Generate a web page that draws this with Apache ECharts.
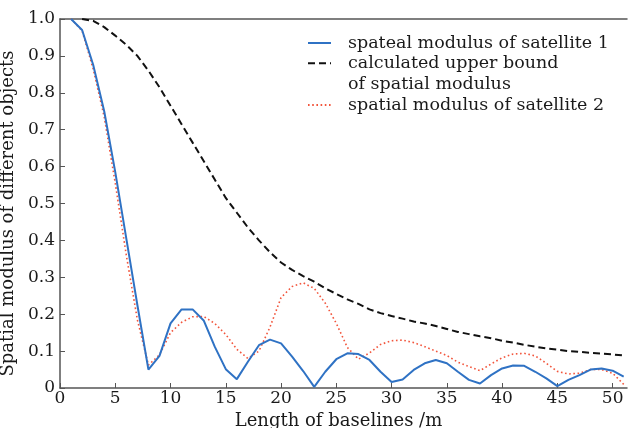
<!DOCTYPE html>
<html>
<head>
<meta charset="utf-8">
<script src="https://cdn.jsdelivr.net/npm/echarts@6/dist/echarts.min.js"></script>
<style>
  html, body { margin: 0; padding: 0; background: #fff; }
  #chart { width: 632px; height: 428px; }
</style>
</head>
<body>
<div id="chart"></div>
<script>
// baseline length (m)
const baselines = [1, 2, 3, 4, 5, 6, 7, 8, 9, 10, 11, 12, 13, 14, 15, 16, 17, 18, 19, 20,
  21, 22, 23, 24, 25, 26, 27, 28, 29, 30, 31, 32, 33, 34, 35, 36, 37, 38, 39, 40,
  41, 42, 43, 44, 45, 46, 47, 48, 49, 50, 51];

// satellite 1 (blue solid)
const satellite1 = [1.0, 0.97, 0.876, 0.75, 0.585, 0.405, 0.225, 0.05, 0.087, 0.175,
  0.213, 0.213, 0.183, 0.112, 0.051, 0.024, 0.071, 0.116, 0.131, 0.121,
  0.085, 0.046, 0.003, 0.044, 0.078, 0.094, 0.092, 0.076, 0.044, 0.016,
  0.023, 0.049, 0.067, 0.076, 0.067, 0.044, 0.022, 0.012, 0.035, 0.053,
  0.061, 0.06, 0.044, 0.026, 0.005, 0.022, 0.035, 0.05, 0.053, 0.047, 0.031];

// satellite 2 (red dotted)
const satellite2 = [1.0, 0.968, 0.865, 0.735, 0.555, 0.36, 0.185, 0.062, 0.09, 0.15,
  0.178, 0.193, 0.194, 0.175, 0.145, 0.105, 0.08, 0.1, 0.165, 0.245,
  0.275, 0.285, 0.27, 0.23, 0.175, 0.11, 0.078, 0.095, 0.118, 0.128,
  0.13, 0.123, 0.112, 0.1, 0.088, 0.07, 0.058, 0.047, 0.065, 0.082,
  0.092, 0.094, 0.087, 0.067, 0.045, 0.038, 0.04, 0.05, 0.05, 0.04, 0.01];

// calculated upper bound (black dashed), starts at x = 2
const upperBaselines = baselines.slice(1);
const upperBound = [1.0, 0.995, 0.978, 0.955, 0.93, 0.9, 0.86, 0.815, 0.765, 0.715,
  0.665, 0.615, 0.565, 0.515, 0.475, 0.435, 0.4, 0.368, 0.34, 0.32,
  0.303, 0.288, 0.27, 0.255, 0.24, 0.228, 0.213, 0.203, 0.195, 0.188,
  0.18, 0.175, 0.168, 0.16, 0.152, 0.146, 0.14, 0.135, 0.128, 0.123,
  0.117, 0.112, 0.107, 0.104, 0.1, 0.098, 0.095, 0.093, 0.091, 0.088];

const names = ['spateal modulus of satellite 1', 'calculated upper bound\nof spatial modulus', 'spatial modulus of satellite 2'];

const zip = (xs, ys) => xs.map((x, i) => [x, ys[i]]);

const serif = 'DejaVu Serif';
const axisColor = '#555';
const textColor = '#1a1a1a';

// one legend block per entry so the two-line entry keeps its icon on the first line
const legendBlock = (name, top, formatter) => ({
  orient: 'vertical',
  left: 307,
  top: top,
  padding: 0,
  itemWidth: 23,
  itemHeight: 14,
  selectedMode: false,
  itemStyle: { opacity: 0 },
  formatter: formatter,
  textStyle: { fontFamily: serif, fontSize: 17.5, color: textColor, lineHeight: 21, padding: [0, 0, 0, 12] },
  data: [name]
});

const chart = echarts.init(document.getElementById('chart'));
const option = {
  animation: false,
  grid: { left: 60, right: 5, top: 19, bottom: 40, outerBoundsMode: 'none' },
  legend: [
    legendBlock(names[0], 32.5),
    // blank first line so the text block's middle line sits on the icon
    legendBlock(names[1], 31.8, n => ' \n' + n),
    legendBlock(names[2], 94.5)
  ],
  xAxis: [{
    type: 'value',
    min: 0,
    max: 51.3,
    interval: 5,
    name: 'Length of baselines /m',
    nameLocation: 'middle',
    nameGap: 20,
    nameTextStyle: { fontFamily: serif, fontSize: 18, color: textColor, padding: [0, 10, 0, 0] },
    axisLine: { lineStyle: { color: axisColor, width: 1.5 } },
    axisTick: { inside: true, length: 5, lineStyle: { color: axisColor } },
    axisLabel: { showMaxLabel: false, margin: 2, fontFamily: serif, fontSize: 17, color: textColor },
    splitLine: { show: false }
  }, {
    type: 'value',
    position: 'top',
    min: 0,
    max: 51.3,
    axisLine: { show: true, lineStyle: { color: axisColor, width: 1.5 } },
    axisTick: { show: false },
    axisLabel: { show: false },
    splitLine: { show: false }
  }],
  yAxis: {
    type: 'value',
    min: 0,
    max: 1,
    interval: 0.1,
    name: 'Spatial modulus of different objects',
    nameLocation: 'middle',
    nameGap: 28,
    nameTextStyle: { fontFamily: serif, fontSize: 18, color: textColor, padding: [0, 20, 0, 0] },
    axisLine: { show: true, lineStyle: { color: axisColor, width: 1.5 } },
    axisTick: { show: true, inside: true, length: 5, lineStyle: { color: axisColor } },
    axisLabel: {
      margin: 5,
      fontFamily: serif,
      fontSize: 17,
      color: textColor,
      formatter: v => (v === 0 ? '0' : v.toFixed(1))
    },
    splitLine: { show: false }
  },
  series: [
    {
      name: names[0],
      type: 'line',
      data: zip(baselines, satellite1),
      symbol: 'none',
      lineStyle: { color: '#2f72c4', width: 2 },
      itemStyle: { color: '#2f72c4' },
      z: 3
    },
    {
      name: names[1],
      type: 'line',
      data: zip(upperBaselines, upperBound),
      symbol: 'none',
      lineStyle: { color: '#111', width: 2, type: [7, 4] },
      itemStyle: { color: '#111' },
      z: 2
    },
    {
      name: names[2],
      type: 'line',
      data: zip(baselines, satellite2),
      symbol: 'none',
      lineStyle: { color: '#f2553c', width: 1.6, type: [1.6, 2.6] },
      itemStyle: { color: '#f2553c' },
      z: 1
    }
  ]
};
chart.setOption(option);
window.addEventListener('resize', function () {
  chart.resize();
});
</script>
</body>
</html>
